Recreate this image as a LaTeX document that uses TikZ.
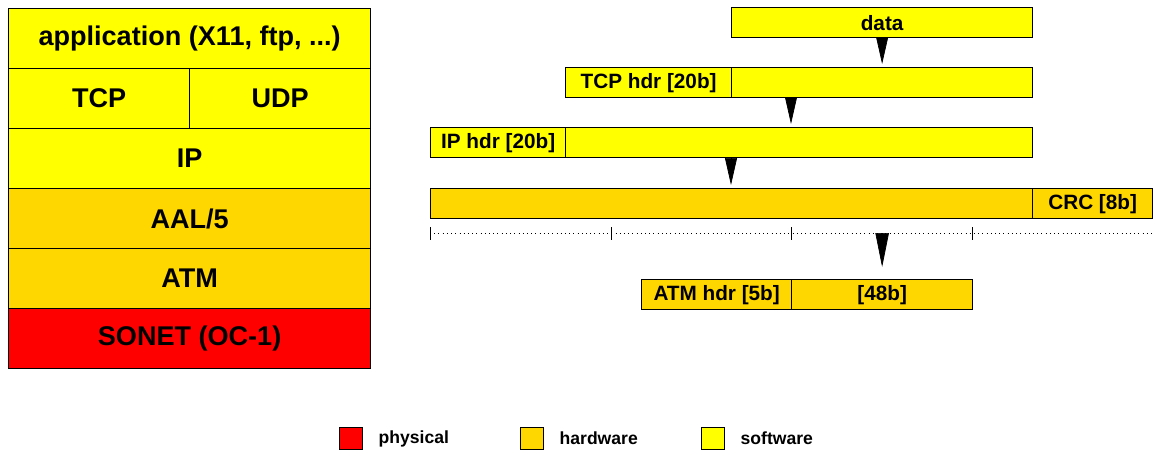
\documentclass[tikz,border=0pt]{standalone}
\usepackage{fontspec}
\setmainfont{Liberation Sans}
\usetikzlibrary{arrows.meta}
\usetikzlibrary{positioning}
\definecolor{soft}{RGB}{255,255,0}
\definecolor{hard}{RGB}{255,215,0}
\definecolor{phys}{RGB}{255,0,0}

\begin{document}
\begin{tikzpicture}[x=0.02cm, y=-0.02cm,
		layer/.style = {draw, line width=0.75pt, anchor=north west, inner sep=0pt, minimum height=1.2cm, font=\fontsize{15.4}{18}\selectfont\bfseries},
		cell/.style = {draw, line width=0.75pt, anchor=north west, inner sep=0pt, minimum height=0.6cm, font=\fontsize{11.8}{14}\selectfont\bfseries},
		arr/.style = {-{Triangle[length=0.54cm,width=0.24cm]}, thin, shorten >=0.06cm},
		key/.style = {draw, line width=0.75pt, minimum width=0.46cm, minimum height=0.44cm, inner sep=0pt, anchor=north west},
		keytext/.style = {inner sep=0pt, anchor=west, font=\fontsize{10}{12}\selectfont\bfseries}]
				\useasboundingbox (0,0) rectangle (1153,450);
				\begin{scope}[every node/.style={layer}]
					\node[fill=soft, minimum width=7.24cm] (app) at (8,8) {application (X11, ftp, ...)};
					\node[fill=soft, minimum width=3.62cm] (tcp) at (8,68) {TCP};
					\node[fill=soft, minimum width=3.62cm] (udp) at (189,68) {UDP};
					\node[fill=soft, minimum width=7.24cm] (ip) at (8,128) {IP};
					\node[fill=hard, minimum width=7.24cm] (aal5) at (8,188) {AAL/5};
					\node[fill=hard, minimum width=7.24cm] (atm) at (8,248) {ATM};
					\node[fill=phys, minimum width=7.24cm] (sonet) at (8,308) {SONET (OC-1)};
				\end{scope}
				\begin{scope}[every node/.style={cell}]
					\node[fill=soft, minimum width=6.02cm] (data) at (731,7) {data};
					\node[fill=soft, minimum width=3.32cm] (tcphdr) at (565,67) {TCP hdr [20b]};
					\node[fill=soft, minimum width=6.02cm] (tcpdata) at (731,67) {};
					\node[fill=soft, minimum width=2.7cm] (iphdr) at (430,127) {IP hdr [20b]};
					\node[fill=soft, minimum width=9.34cm] (ipdata) at (565,127) {};
					\node[fill=hard, minimum width=12.04cm] (aal) at (430,188) {};
					\node[fill=hard, minimum width=2.4cm] (crc) at (1032,188) {CRC [8b]};
					\node[fill=hard, minimum width=3.0cm] (atmhdr) at (641,279) {ATM hdr [5b]};
					\node[fill=hard, minimum width=3.62cm] (payload) at (791,279) {[48b]};
				\end{scope}
				\coordinate (t0) at (430,233);
				\coordinate (t1) at (611,233);
				\coordinate (t2) at (791,233);
				\coordinate (t3) at (972,233);
				\coordinate (t4) at (1152,233);
				\draw [dotted, black] (t0) -- (t4);
				\foreach \t in {t0,t1,t2,t3}
					\draw [black] (\t) ++(0,-6) -- ++(0,13);
				\draw [arr] (data.south) -- (tcpdata.north);
				\draw [arr] (tcpdata.south -| t2) -- (ipdata.north -| t2);
				\draw [arr] (ipdata.south -| tcpdata.west) -- (aal.north -| tcpdata.west);
				\draw [arr, -{Triangle[length=0.68cm,width=0.27cm]}, shorten >=0.24cm] (payload.north |- t2) -- (payload.north);
				\node[key, fill=phys] (kphys) at (339,427) {};
				\node[keytext, right=0.3cm of kphys] (lphys) {physical};
				\node[key, fill=hard] (khard) at (520,427) {};
				\node[keytext, right=0.3cm of khard] (lhard) {hardware};
				\node[key, fill=soft] (ksoft) at (701,427) {};
				\node[keytext, right=0.3cm of ksoft] (lsoft) {software};
			\end{tikzpicture}
\end{document}
